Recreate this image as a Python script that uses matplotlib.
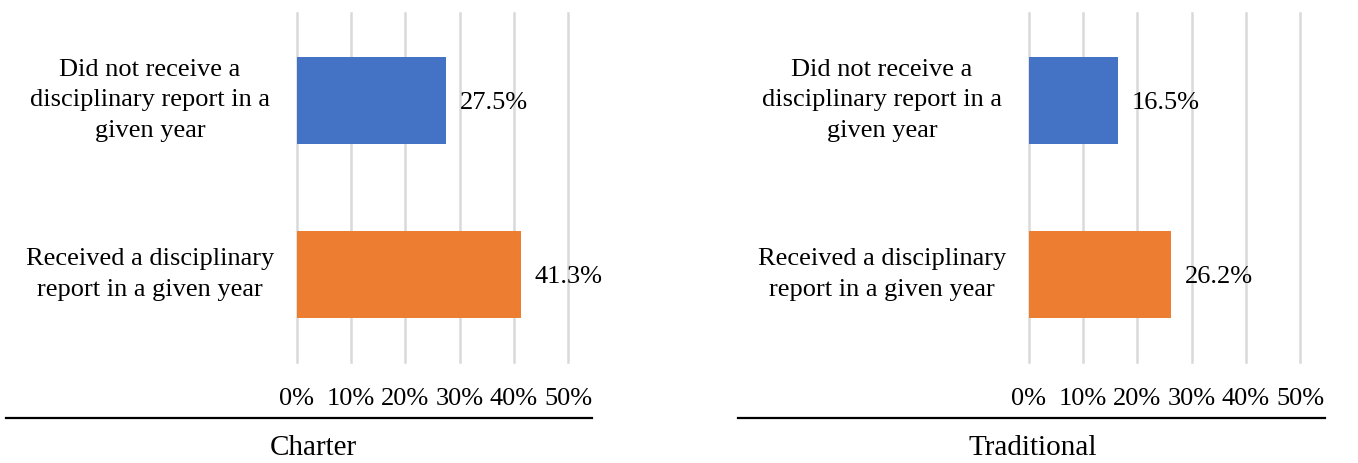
import matplotlib.pyplot as plt
from matplotlib.lines import Line2D

plt.rcParams['font.family'] = ['Liberation Serif', 'DejaVu Serif']

# Share of students in each group, by school type
categories = ["Did not receive a\ndisciplinary report in a\ngiven year",
              "Received a disciplinary\nreport in a given year"]
charter = [0.275, 0.413]
traditional = [0.165, 0.262]
panels = ["Charter", "Traditional"]
ticks = [0, 0.1, 0.2, 0.3, 0.4, 0.5]
colors = ["#4472C4", "#ED7D31"]

W, H = 1358, 463
FS = 19
fig = plt.figure(figsize=(W / 100, H / 100), dpi=100)

def add_panel(x0, x1, values, title, lx0, lx1, title_x):
    ax = fig.add_axes([x0 / W, 1 - 362 / H, (x1 - x0) / W, 349 / H])
    ypos = [0, 1]
    ax.barh(ypos, values, height=0.5, color=colors, zorder=3)
    for y, v in zip(ypos, values):
        ax.text(v + 0.025, y + 0.015, f"{v * 100:.1f}%", va="center", ha="left", fontsize=FS)
    ax.set_xlim(0, 0.5)
    ax.set_ylim(1.5, -0.5)
    ax.set_xticks(ticks)
    ax.set_xticklabels([f"{int(t * 100)}%" for t in ticks], fontsize=FS)
    ax.tick_params(axis="x", length=0, pad=19)
    ax.set_yticks([])
    ax.grid(axis="x", color="#d9d9d9", linewidth=1.8, zorder=0)
    for gl in ax.get_xgridlines():
        gl.set_clip_on(False)
    for s in ax.spines.values():
        s.set_visible(False)
    # category labels sit to the left of the bars
    label_cx = x0 - 147
    for y, cat in zip(ypos, categories):
        ax.text((label_cx - x0) / (x1 - x0) * 0.5, y, cat, ha="center", va="center",
                fontsize=FS, linespacing=1.5, clip_on=False)
    fig.add_artist(Line2D([lx0 / W, lx1 / W], [1 - 418 / H] * 2, color="black",
                          linewidth=1.6, transform=fig.transFigure))
    fig.text(title_x / W, 1 - 448 / H, title, ha="center", va="center", fontsize=21)

add_panel(297, 568, charter, panels[0], 6, 592, 313)
add_panel(1029, 1300, traditional, panels[1], 738, 1325, 1033)

fig.savefig("out.png", dpi=100)
